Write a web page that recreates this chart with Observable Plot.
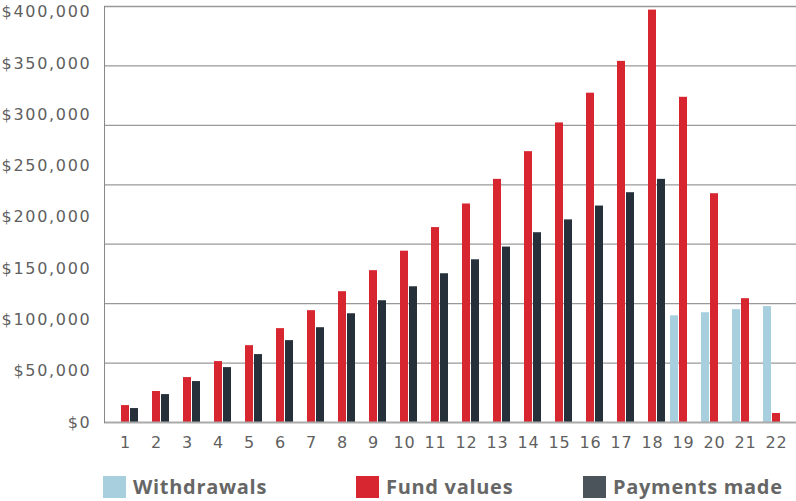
<!DOCTYPE html>
<html>
<head>
<meta charset="utf-8">
<script src="https://cdn.jsdelivr.net/npm/d3@7"></script>
<script src="https://cdn.jsdelivr.net/npm/@observablehq/plot@0.6"></script>
<style>
  html, body { margin: 0; padding: 0; background: #fff; }
  body { width: 796px; height: 501px; overflow: hidden; font-family: "Open Sans", sans-serif; }
  #chart svg { display: block; }
  #chart svg g[aria-label="y-axis tick label"] text { letter-spacing: 1.7px; }
  #chart svg g[aria-label="x-axis tick label"] text { letter-spacing: 0.8px; }
  .legend { position: relative; height: 30px; margin-top: 16px; }
  .legend .item { position: absolute; top: 0; display: flex; align-items: center; }
  .legend .sw { width: 23px; height: 22px; margin-right: 7px; }
  .legend .lbl { font-family: "Open Sans", sans-serif; font-weight: 700; font-size: 20px; color: #666; letter-spacing: 0.7px; line-height: 22px; }
</style>
</head>
<body>
<div id="chart"></div>
<script>
const years = [1,2,3,4,5,6,7,8,9,10,11,12,13,14,15,16,17,18,19,20,21,22];
const seriesNames = ["Withdrawals", "Fund values", "Payments made"];
const seriesColors = ["#a8cfde", "#d7262f", "#26303b"];
const legendColors = ["#a8cfde", "#d7262f", "#4b535b"];
const withdrawals = [null,null,null,null,null,null,null,null,null,null,null,null,null,null,null,null,null,null,104000,107000,110000,113000];
const fundValues = [16500,30200,43800,59400,74900,91500,109000,127500,148000,167000,190000,213000,237000,264000,292000,321000,352000,402000,317000,223000,120700,8800];
const paymentsMade = [13600,27200,39900,53500,66200,79800,92400,106000,118700,132300,145000,158600,171000,185000,197500,211000,224000,237000,null,null,null,null];
const yTicks = [0,50000,100000,150000,200000,250000,300000,350000,400000];
const yMax = 405500;
const gridCount = 7;
const gridValues = d3.range(1, gridCount + 1).map(i => yMax * i / gridCount);

const seriesValues = [withdrawals, fundValues, paymentsMade];
const rows = [];
seriesNames.forEach((s, si) => {
  years.forEach((yr, i) => {
    const v = seriesValues[si][i];
    if (v != null) rows.push({year: yr, series: s, value: v});
  });
});

const offsets = {"Withdrawals": -9, "Fund values": 0, "Payments made": 9};
const fmt = d3.format(",");

const barMarks = seriesNames.map((s, si) =>
  Plot.barY(rows.filter(d => d.series === s), {
    x: "year", y: "value", fill: seriesColors[si], dx: offsets[s]
  })
);

const axisFont = "DejaVu Sans, sans-serif";

const chart = Plot.plot({
  width: 796,
  height: 460,
  marginTop: 6,
  marginBottom: 38,
  marginLeft: 104,
  marginRight: 0,
  style: {fontFamily: axisFont, color: "#5f5f5f", background: "#fff"},
  x: {domain: years, paddingInner: 0.745, paddingOuter: 0.3725, align: 0.5, axis: null},
  y: {domain: [0, yMax], axis: null},
  marks: [
    Plot.ruleY(gridValues, {stroke: "#999", strokeWidth: 1.3}),
    ...barMarks,
    Plot.ruleY([0], {stroke: "#aaa", strokeWidth: 2}),
    Plot.frame({anchor: "left", stroke: "#888", strokeWidth: 1}),
    Plot.axisY({ticks: yTicks, tickSize: 0, tickPadding: 13, fontSize: 16, label: null, tickFormat: d => "$" + fmt(d), fill: "#5f5f5f"}),
    Plot.axisX({tickSize: 0, tickPadding: 14, fontSize: 16, label: null, fill: "#5f5f5f"})
  ]
});
document.getElementById("chart").appendChild(chart);

const legend = document.createElement("div");
legend.className = "legend";
const lefts = [103, 356, 583];
seriesNames.forEach((s, i) => {
  const item = document.createElement("div");
  item.className = "item";
  item.style.left = lefts[i] + "px";
  const sw = document.createElement("div");
  sw.className = "sw";
  sw.style.background = legendColors[i];
  const lbl = document.createElement("span");
  lbl.className = "lbl";
  lbl.textContent = s;
  item.appendChild(sw);
  item.appendChild(lbl);
  legend.appendChild(item);
});
document.body.appendChild(legend);
</script>
</body>
</html>
